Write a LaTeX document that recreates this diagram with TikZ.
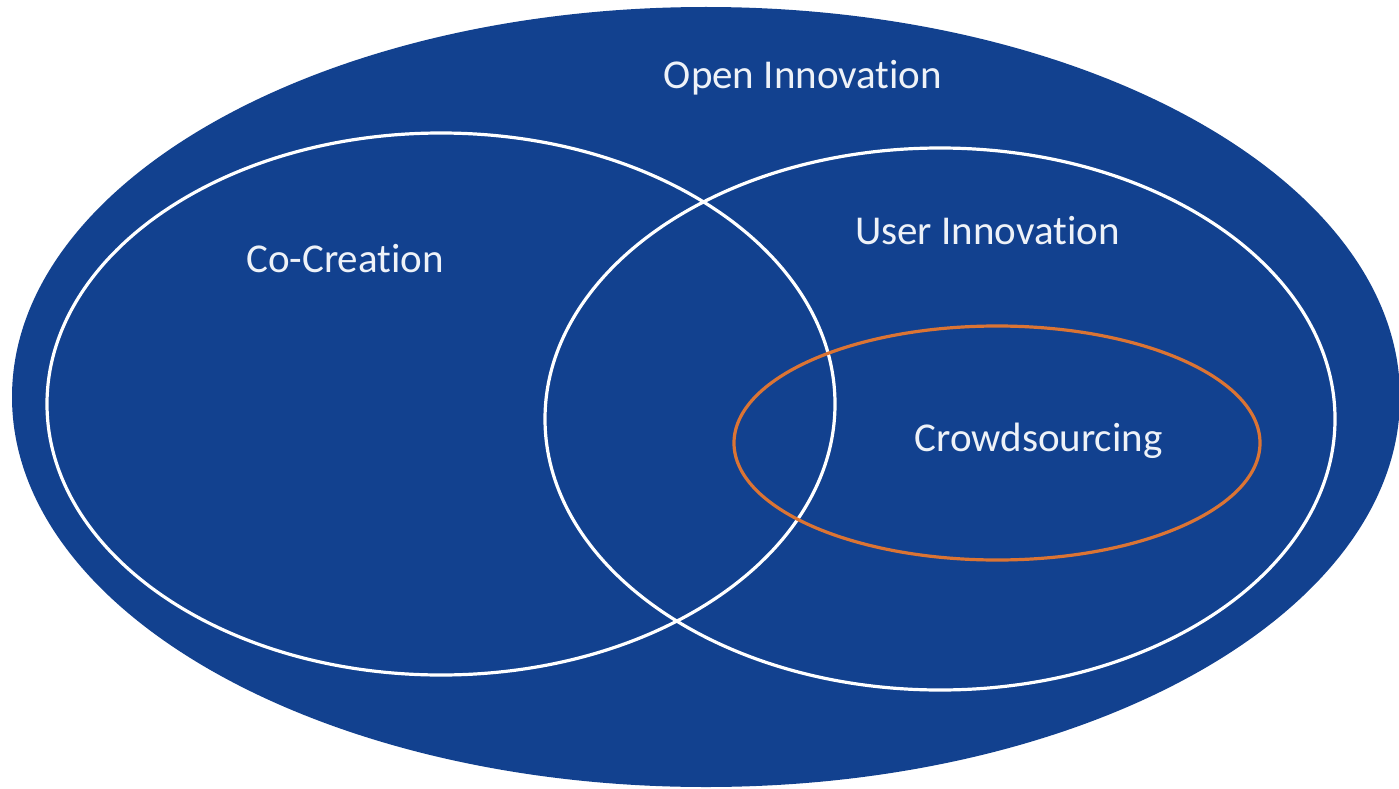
\documentclass[tikz,border=0pt]{standalone}
\usepackage{fontspec}
\setmainfont[Ligatures=NoCommon]{Carlito}
\definecolor{oiblue}{HTML}{12418F}
\definecolor{csorange}{HTML}{DB7434}
\definecolor{txt}{HTML}{EEF2F8}
\tikzset{
  lbl/.style={text=txt, font=\fontsize{41}{48}\selectfont, anchor=base, inner sep=0pt},
  whiteset/.style={draw=white, line width=3.2pt},
}
\begin{document}
\begin{tikzpicture}[x=1pt,y=-1pt]
\useasboundingbox (0,0) rectangle (1399,789);
\fill[oiblue] (706,397) ellipse [x radius=694, y radius=390];
\draw[whiteset] (441,404) ellipse [x radius=394, y radius=271];
\draw[whiteset] (940,419) ellipse [x radius=395, y radius=271];
\draw[csorange, line width=3.2pt] (997,443) ellipse [x radius=263, y radius=117];
\node[lbl] (open) at (803,89) {Open Innovation};
\node[lbl] (cocr) at (345,272) {Co-Creation};
\node[lbl] (user) at (987.5,244) {User Innovation};
\node[lbl] (crowd) at (1038.5,451) {Crowdsourcing};
\end{tikzpicture}
\end{document}
